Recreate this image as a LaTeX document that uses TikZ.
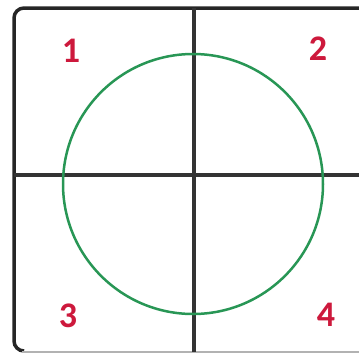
\documentclass[tikz,border=0pt]{standalone}
\usepackage{fontspec}
\setmainfont{Carlito}
\usetikzlibrary{positioning}

\definecolor{quadred}{RGB}{205,25,60}
\definecolor{ringgreen}{RGB}{40,150,85}

\begin{document}
\begin{tikzpicture}[
  x=1pt, y=-1pt,
  frame/.style={line width=3.5pt, black!85, rounded corners=10pt},
  floor/.style={line width=2pt, black!30},
  axis/.style={line width=4pt, black!80},
  ring/.style={line width=2.5pt, ringgreen},
  quad/.style={text=quadred, font=\fontsize{36}{36}\selectfont\bfseries, inner sep=0pt}
]
  \useasboundingbox (0,0) rectangle (359,354);
  \draw[frame] (364,8) -- (14,8) -- (14,351) -- (24,351);
  \draw[floor] (22,351.5) -- (359,351.5);
  % axes through the middle
  \coordinate (top) at (194,8);
  \coordinate (bottom) at (194,352);
  \coordinate (left) at (14,175);
  \coordinate (right) at (359,175);
  \draw[axis] (top) -- (bottom);
  \draw[axis] (left) -- (right);
  \draw[ring] (193,184) circle (130);
  % quadrant numbers
  \node[quad] (q1) at (71,51) {1};
  \node[quad] (q2) at (318,49) {2};
  \node[quad] (q3) at (68,316) {3};
  \node[quad] (q4) at (326,315) {4};
\end{tikzpicture}
\end{document}
